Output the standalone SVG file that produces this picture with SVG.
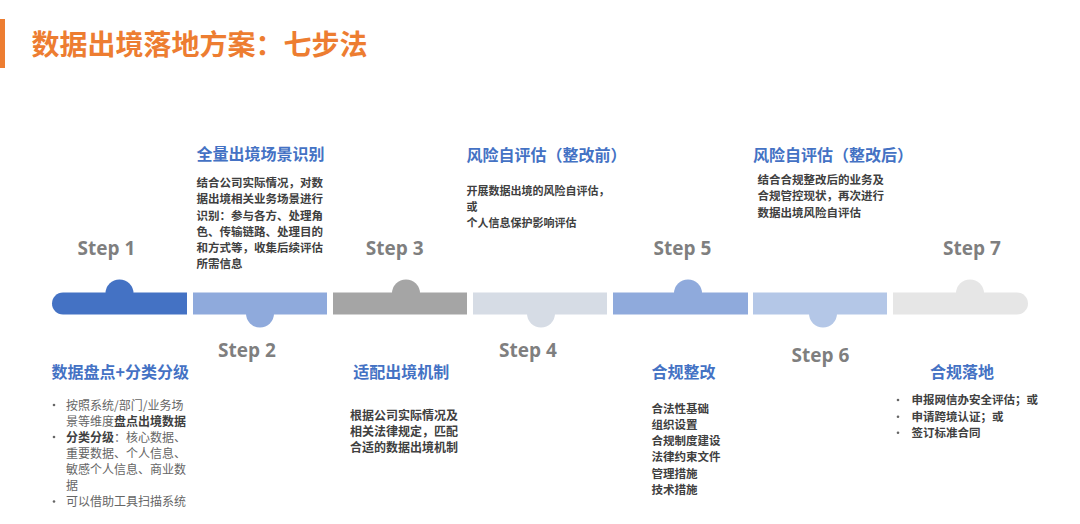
<svg xmlns="http://www.w3.org/2000/svg" width="1080" height="524" viewBox="0 0 1080 524">
<style>
  .cjk { font-family: "Noto Sans CJK SC", "Noto Sans", sans-serif; }
  .title { font-family: "Noto Sans CJK SC", sans-serif; font-size: 28px; font-weight: bold; fill: #ED7D31; }
  .step { font-family: "Open Sans", "Noto Sans", sans-serif; font-size: 19px; font-weight: bold; fill: #7F7F7F; text-anchor: middle; }
  .head { font-family: "Noto Sans CJK SC", sans-serif; font-size: 16px; font-weight: bold; fill: #4472C4; }
  .body { font-family: "Noto Sans CJK SC", sans-serif; font-size: 11.5px; font-weight: bold; fill: #404040; }
  .body11 { font-family: "Noto Sans CJK SC", sans-serif; font-size: 11px; font-weight: bold; fill: #404040; }
  .body12 { font-family: "Noto Sans CJK SC", sans-serif; font-size: 12px; font-weight: bold; fill: #404040; }
  .reg { font-family: "Noto Sans CJK SC", sans-serif; font-size: 12px; fill: #666666; }
  .b { font-weight: bold; fill: #404040; }
  .dot { fill: #666666; }
</style>
<rect width="1080" height="524" fill="#FFFFFF"/>
<g id="title">
  <rect x="0" y="19" width="5" height="49" fill="#ED7D31"/>
  <text class="title" x="31.5" y="54.5">数据出境落地方案：七步法</text>
</g>

<g id="step1">
  <circle cx="119.5" cy="293.5" r="14" fill="#4472C4"/>
  <path d="M63,292.5 H187 V314.5 H63 A11,11 0 0 1 63,292.5 Z" fill="#4472C4"/>
  <text class="step" x="106.5" y="254.5">Step 1</text>
  <text class="head" x="51.5" y="377.8">数据盘点+分类分级</text>
  <g class="reg">
    <circle class="dot" cx="54" cy="405" r="1.3"/>
    <circle class="dot" cx="54" cy="437" r="1.3"/>
    <circle class="dot" cx="54" cy="501.5" r="1.3"/>
    <text x="66" y="409.6">按照系统/部门/业务场</text>
    <text x="66" y="425.6">景等维度<tspan class="b">盘点出境数据</tspan></text>
    <text x="66" y="441.6"><tspan class="b">分类分级</tspan>：核心数据、</text>
    <text x="66" y="457.6">重要数据、个人信息、</text>
    <text x="66" y="473.6">敏感个人信息、商业数</text>
    <text x="66" y="489.6">据</text>
    <text x="66" y="506">可以借助工具扫描系统</text>
  </g>
</g>

<g id="step2">
  <circle cx="260" cy="313.5" r="14" fill="#8FAADC"/>
  <rect x="193" y="292.5" width="134" height="22" fill="#8FAADC"/>
  <text class="step" x="247" y="357">Step 2</text>
  <text class="head" x="196.5" y="160">全量出境场景识别</text>
  <g class="body">
    <text x="196.5" y="187">结合公司实际情况，对数</text>
    <text x="196.5" y="203.3">据出境相关业务场景进行</text>
    <text x="196.5" y="219.5">识别：参与各方、处理角</text>
    <text x="196.5" y="235.7">色、传输链路、处理目的</text>
    <text x="196.5" y="252">和方式等，收集后续评估</text>
    <text x="196.5" y="268">所需信息</text>
  </g>
</g>

<g id="step3">
  <circle cx="406" cy="293.5" r="14" fill="#A5A5A5"/>
  <rect x="333" y="292.5" width="134" height="22" fill="#A5A5A5"/>
  <text class="step" x="394.7" y="254.5">Step 3</text>
  <text class="head" x="353.3" y="377.8">适配出境机制</text>
  <g class="body12">
    <text x="350" y="419.6">根据公司实际情况及</text>
    <text x="350" y="435.6">相关法律规定，匹配</text>
    <text x="350" y="452">合适的数据出境机制</text>
  </g>
</g>

<g id="step4">
  <circle cx="541" cy="313.5" r="14" fill="#D6DCE5"/>
  <rect x="473" y="292.5" width="134" height="22" fill="#D6DCE5"/>
  <text class="step" x="528" y="357">Step 4</text>
  <text class="head" x="466.5" y="161">风险自评估（整改前）</text>
  <g class="body11">
    <text x="466.5" y="194.5">开展数据出境的风险自评估，</text>
    <text x="466.5" y="210.5">或</text>
    <text x="466.5" y="226.5">个人信息保护影响评估</text>
  </g>
</g>

<g id="step5">
  <circle cx="688" cy="293.5" r="14" fill="#8FAADC"/>
  <rect x="613" y="292.5" width="135" height="22" fill="#8FAADC"/>
  <text class="step" x="682.5" y="255">Step 5</text>
  <text class="head" x="651.5" y="378.4">合规整改</text>
  <g class="body">
    <text x="651.5" y="412.7">合法性基础</text>
    <text x="651.5" y="428.7">组织设置</text>
    <text x="651.5" y="445">合规制度建设</text>
    <text x="651.5" y="461">法律约束文件</text>
    <text x="651.5" y="477.7">管理措施</text>
    <text x="651.5" y="494.4">技术措施</text>
  </g>
</g>

<g id="step6">
  <circle cx="823" cy="313.5" r="14" fill="#B4C7E7"/>
  <rect x="753" y="292.5" width="134" height="22" fill="#B4C7E7"/>
  <text class="step" x="820.5" y="362">Step 6</text>
  <text class="head" x="753" y="161">风险自评估（整改后）</text>
  <g class="body">
    <text x="757.5" y="183.7">结合合规整改后的业务及</text>
    <text x="757.5" y="200">合规管控现状，再次进行</text>
    <text x="757.5" y="216.7">数据出境风险自评估</text>
  </g>
</g>

<g id="step7">
  <circle cx="970" cy="293.5" r="14" fill="#E6E6E6"/>
  <path d="M893,292.5 H1017 A11,11 0 0 1 1017,314.5 H893 Z" fill="#E6E6E6"/>
  <text class="step" x="972" y="255">Step 7</text>
  <text class="head" x="930" y="378.4">合规落地</text>
  <g class="body">
    <circle class="dot" cx="898" cy="400" r="1.3"/>
    <circle class="dot" cx="898" cy="416.7" r="1.3"/>
    <circle class="dot" cx="898" cy="432.7" r="1.3"/>
    <text x="911.5" y="404.4">申报网信办安全评估；或</text>
    <text x="911.5" y="421">申请跨境认证；或</text>
    <text x="911.5" y="437">签订标准合同</text>
  </g>
</g>
</svg>
